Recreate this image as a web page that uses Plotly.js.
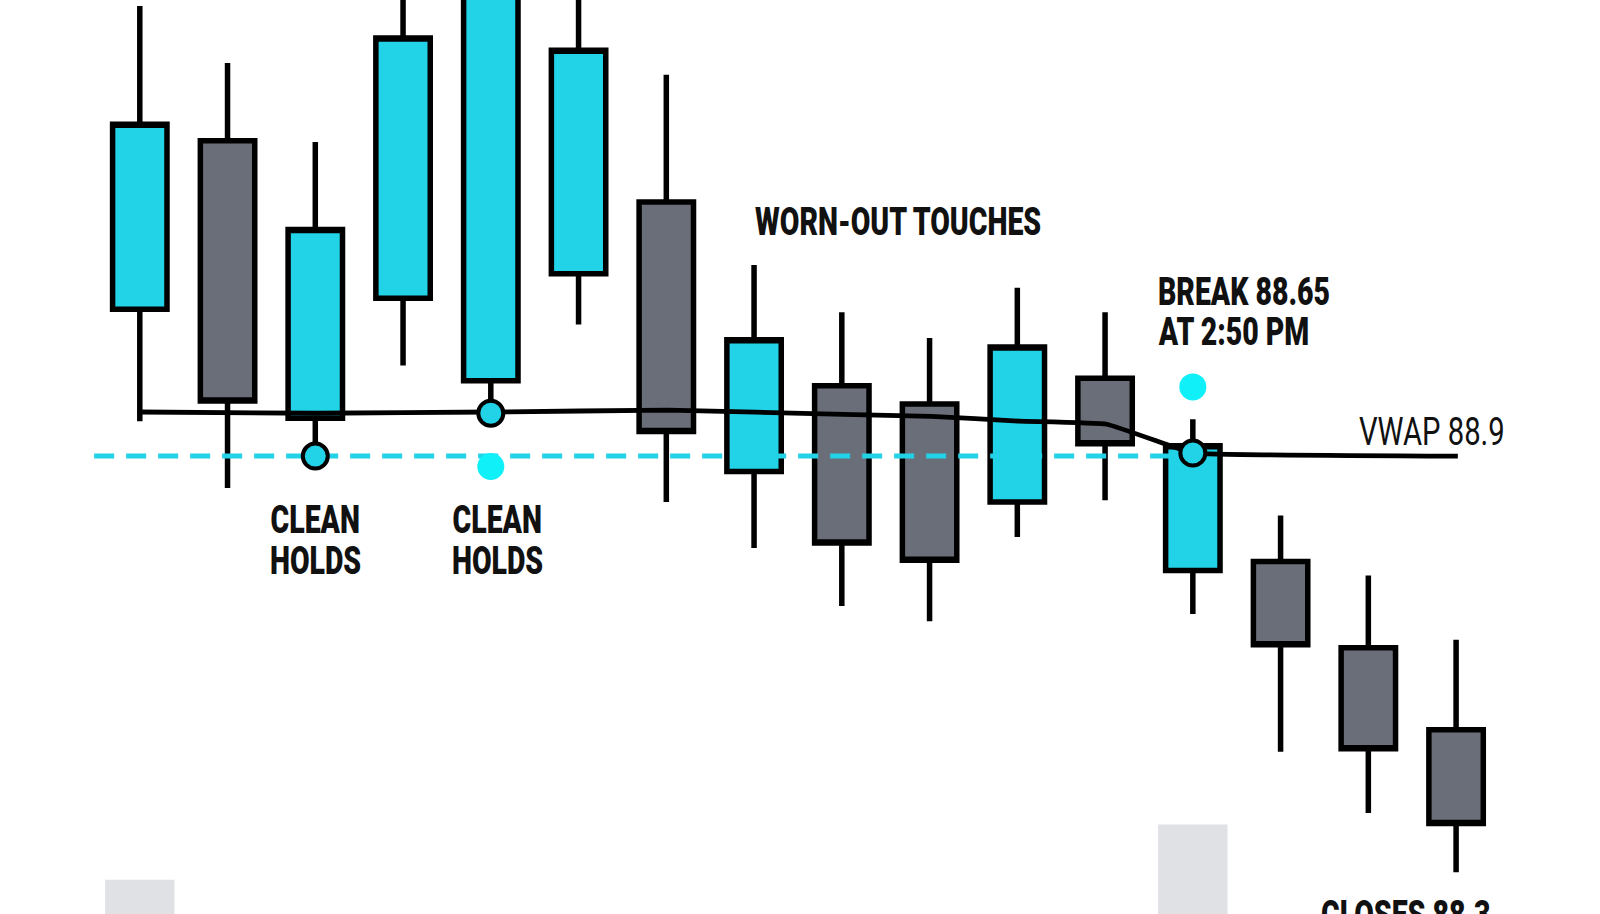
<!DOCTYPE html>
<html>
<head>
<meta charset="utf-8">
<script src="https://cdn.plot.ly/plotly-3.0.1.min.js"></script>
<style>
html,body{margin:0;padding:0;background:#fff;}
#chart{width:1600px;height:914px;}
</style>
</head>
<body>
<div id="chart"></div>
<script>
// Candle data (bar index, price)
const barIndex = [0,1,2,3,4,5,6,7,8,9,10,11,12,13,14,15];
const openP  = [89.140, 89.415, 88.962, 89.158, 89.023, 89.198, 89.315, 88.875, 89.015, 88.985, 88.825, 89.027, 88.713, 88.728, 88.587, 88.453];
const highP  = [89.635, 89.542, 89.413, 89.700, 89.720, 89.700, 89.523, 89.212, 89.135, 89.093, 89.175, 89.135, 88.960, 88.803, 88.705, 88.600];
const lowP   = [88.957, 88.848, 88.900, 89.048, 88.992, 89.115, 88.825, 88.750, 88.655, 88.630, 88.768, 88.828, 88.642, 88.417, 88.317, 88.220];
const closeP = [89.442, 88.990, 89.270, 89.583, 89.680, 89.563, 88.940, 89.090, 88.758, 88.730, 89.078, 88.920, 88.917, 88.592, 88.422, 88.300];

// VWAP line
const vwapX = [0, 2, 4.02, 6.02, 8.02, 9.02, 10.02, 11.02, 11.72, 12.02, 15.02];
const vwapY = [88.972, 88.970, 88.972, 88.975, 88.968, 88.965, 88.957, 88.952, 88.918, 88.905, 88.900];

// Support (dashed) level
const levelX = [-0.52, 11.8];
const levelY = [88.900, 88.900];

// Volume-like highlight bars
const volX = [0, 12];
const volTop = [88.208, 88.298];
const volBase = 88.0;

// Touch markers
const touchX = [2, 4, 12];
const touchY = [88.900, 88.970, 88.905];
const dotX = [4, 12];
const dotY = [88.883, 89.013];

// Annotation texts (one per line) and anchors
const labelText = ["WORN-OUT TOUCHES", "BREAK 88.65", "AT 2:50 PM", "VWAP 88.9",
                   "CLEAN", "HOLDS", "CLEAN", "HOLDS", "CLOSES 88.3"];
const labelBold = [true, true, true, false, true, true, true, true, true];
const labelX = [6.99, 11.58, 11.58, 13.87, 2.0, 2.0, 4.08, 4.08, 13.44];
const labelY = [89.283, 89.168, 89.102, 88.940, 88.795, 88.728, 88.795, 88.728, 88.192];
const labelXAnchor = ["left", "left", "left", "left", "center", "center", "center", "center", "left"];
const labelYAnchor = ["middle", "middle", "middle", "middle", "middle", "middle", "middle", "middle", "top"];

const CYAN = "#22d3e8";
const GRAY = "#6a6e78";
const FONT = "Roboto, Liberation Sans, sans-serif";
const BOLD_SQUEEZE = 0.73;
const REG_SQUEEZE = 0.75;

const volVals = volTop.map(v => v - volBase);

const traces = [
  {type: "bar", x: volX, y: volVals, base: volBase, width: 0.79,
   marker: {color: "#dfe1e4", line: {width: 0}}, hoverinfo: "skip", showlegend: false},
  {type: "scatter", mode: "lines", x: levelX, y: levelY,
   line: {color: CYAN, width: 5, dash: "20px,12px"}, hoverinfo: "skip", showlegend: false},
  {type: "candlestick", x: barIndex, open: openP, high: highP, low: lowP, close: closeP,
   increasing: {fillcolor: CYAN, line: {color: "#000", width: 5.5}},
   decreasing: {fillcolor: GRAY, line: {color: "#000", width: 5.5}},
   whiskerwidth: 0, showlegend: false, hoverinfo: "skip"},
  {type: "scatter", mode: "lines", x: vwapX, y: vwapY,
   line: {color: "#000", width: 4.8, shape: "spline", smoothing: 0.3}, hoverinfo: "skip", showlegend: false},
  {type: "scatter", mode: "markers", x: dotX, y: dotY,
   marker: {color: "#0ff0f8", size: 27, line: {width: 0}}, hoverinfo: "skip", showlegend: false},
  {type: "scatter", mode: "markers", x: touchX, y: touchY,
   marker: {color: CYAN, size: 25, line: {color: "#000", width: 4}}, hoverinfo: "skip", showlegend: false}
];

const annotations = labelText.map((t, i) => ({
  text: t, x: labelX[i], y: labelY[i], xref: "x", yref: "y",
  xanchor: labelXAnchor[i], yanchor: labelYAnchor[i], showarrow: false,
  align: labelXAnchor[i] === "center" ? "center" : "left",
  font: {family: FONT, size: 39, color: "#111", weight: labelBold[i] ? 900 : 400}
}));

const layout = {
  width: 1600, height: 914,
  margin: {l: 0, r: 0, t: 0, b: 0, pad: 0},
  paper_bgcolor: "#fff", plot_bgcolor: "#fff",
  boxgap: 0.38, boxgroupgap: 0,
  xaxis: {range: [-1.593, 16.64], visible: false, rangeslider: {visible: false}, fixedrange: true},
  yaxis: {range: [88.152, 89.645], visible: false, fixedrange: true},
  annotations: annotations,
  showlegend: false
};

Plotly.newPlot("chart", traces, layout, {displayModeBar: false, staticPlot: true}).then(() => {
  // Condense annotation lettering horizontally (the reference uses a condensed face)
  const texts = document.querySelectorAll("#chart .annotation-text");
  texts.forEach((el, i) => {
    const bb = el.getBBox();
    const s = labelBold[i] ? BOLD_SQUEEZE : REG_SQUEEZE;
    const cx = labelXAnchor[i] === "center" ? bb.x + bb.width / 2 : bb.x;
    el.setAttribute("transform", `translate(${cx},0) scale(${s},1) translate(${-cx},0)`);
  });
});
</script>
</body>
</html>
